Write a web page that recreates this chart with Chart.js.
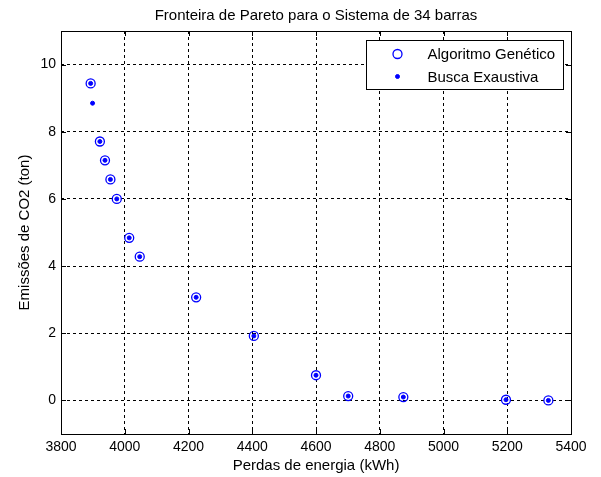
<!DOCTYPE html>
<html>
<head>
<meta charset="utf-8">
<script src="https://cdn.jsdelivr.net/npm/chart.js@4.4.1/dist/chart.umd.min.js"></script>
<style>
  html, body { margin: 0; padding: 0; background: #fff; }
  #wrap { width: 601px; height: 477px; }
</style>
</head>
<body>
<div id="wrap"><canvas id="pareto" width="601" height="477"></canvas></div>
<script>
// --- dados ---
const gaLosses    = [3893, 3922, 3938, 3955, 3975, 4014, 4047, 4224, 4405, 4600, 4701, 4874, 5196, 5329];
const gaEmissions = [9.44, 7.71, 7.15, 6.58, 6.00, 4.84, 4.28, 3.07, 1.92, 0.75, 0.13, 0.10, 0.02, 0.00];
const exLosses    = [3893, 3899, 3922, 3938, 3955, 3975, 4014, 4047, 4224, 4405, 4600, 4701, 4874, 5196, 5329];
const exEmissions = [9.44, 8.85, 7.71, 7.15, 6.58, 6.00, 4.84, 4.28, 3.07, 1.92, 0.75, 0.13, 0.10, 0.02, 0.00];
const xTicks = [3800, 4000, 4200, 4400, 4600, 4800, 5000, 5200, 5400];
const yTicks = [0, 2, 4, 6, 8, 10];
const seriesLabels = ['Algoritmo Genético', 'Busca Exaustiva'];

const FONT = 'Arial, "Liberation Sans", Helvetica, sans-serif';
const BLUE = '#0000ff';

const toPoints = (xs, ys) => xs.map((x, i) => ({ x: x, y: ys[i] }));

// grade tracejada, sem linha por cima da moldura
const gridColor = (c) => {
    const s = c.scale;
    if (!c.tick) return 'rgba(0,0,0,0)';
    return (c.tick.value <= s.min || c.tick.value >= s.max) ? 'rgba(0,0,0,0)' : '#000';
};

// moldura + marcas de escala para dentro (estilo MATLAB)
const boxPlugin = {
    id: 'box',
    afterDatasetsDraw(chart) {
        const { ctx, chartArea: a, scales } = chart;
        ctx.save();
        ctx.strokeStyle = '#000';
        ctx.lineWidth = 1;
        ctx.setLineDash([]);
        ctx.beginPath();
        scales.x.ticks.forEach(t => {
            const px = Math.round(scales.x.getPixelForValue(t.value)) + 0.5;
            ctx.moveTo(px, a.bottom); ctx.lineTo(px, a.bottom - 5);
            ctx.moveTo(px, a.top);    ctx.lineTo(px, a.top + 5);
        });
        scales.y.ticks.forEach(t => {
            const py = Math.round(scales.y.getPixelForValue(t.value)) + 0.5;
            ctx.moveTo(a.left, py);  ctx.lineTo(a.left + 5, py);
            ctx.moveTo(a.right, py); ctx.lineTo(a.right - 5, py);
        });
        ctx.stroke();
        ctx.strokeRect(Math.round(a.left) + 0.5, Math.round(a.top) + 0.5,
                       Math.round(a.right - a.left), Math.round(a.bottom - a.top));
        ctx.restore();
    }
};

// legenda dentro do eixo, canto superior direito
const legendPlugin = {
    id: 'boxLegend',
    afterDraw(chart) {
        const { ctx, chartArea: a } = chart;
        const w = 197, h = 49;
        const x0 = Math.round(a.right - 8 - w) + 0.5, y0 = Math.round(a.top + 9) + 0.5;
        ctx.save();
        ctx.fillStyle = '#fff';
        ctx.fillRect(x0, y0, w, h);
        ctx.strokeStyle = '#000';
        ctx.lineWidth = 1;
        ctx.setLineDash([]);
        ctx.strokeRect(x0, y0, w, h);
        ctx.font = '15px ' + FONT;
        ctx.textBaseline = 'middle';
        ctx.fillStyle = '#000';
        const rows = [y0 + 13.5, y0 + 36];
        chart.data.datasets.forEach((ds, i) => {
            const mx = x0 + 31, my = rows[i];
            ctx.beginPath();
            ctx.arc(mx, my, ds.pointRadius, 0, Math.PI * 2);
            if (ds.pointBackgroundColor !== 'rgba(0,0,0,0)') {
                ctx.fillStyle = ds.pointBackgroundColor;
                ctx.fill();
            }
            ctx.strokeStyle = ds.pointBorderColor;
            ctx.lineWidth = ds.pointBorderWidth;
            ctx.stroke();
            ctx.fillStyle = '#000';
            ctx.fillText(ds.label, x0 + 61, my + 1);
        });
        ctx.restore();
    }
};

const plainNumber = v => String(v);

new Chart(document.getElementById('pareto'), {
    type: 'scatter',
    data: {
        datasets: [{
            label: seriesLabels[0],
            data: toPoints(gaLosses, gaEmissions),
            pointStyle: 'circle',
            pointRadius: 4.5,
            pointBackgroundColor: 'rgba(0,0,0,0)',
            pointBorderColor: BLUE,
            pointBorderWidth: 1.3,
            showLine: false
        }, {
            label: seriesLabels[1],
            data: toPoints(exLosses, exEmissions),
            pointStyle: 'circle',
            pointRadius: 2,
            pointBackgroundColor: BLUE,
            pointBorderColor: BLUE,
            pointBorderWidth: 1,
            showLine: false
        }]
    },
    options: {
        responsive: false,
        animation: false,
        devicePixelRatio: 1,
        layout: { padding: { left: 0, right: 30, top: 0, bottom: 0 } },
        plugins: {
            legend: { display: false },
            tooltip: { enabled: false },
            title: {
                display: true,
                fullSize: false,
                text: 'Fronteira de Pareto para o Sistema de 34 barras',
                color: '#000',
                font: { family: FONT, size: 15, weight: 'normal', lineHeight: 1.2 },
                padding: { top: 7, bottom: 6 }
            }
        },
        scales: {
            x: {
                type: 'linear',
                min: xTicks[0],
                max: xTicks[xTicks.length - 1],
                afterBuildTicks: axis => { axis.ticks = xTicks.map(v => ({ value: v })); },
                afterFit: axis => { axis.height = 43; },
                ticks: { color: '#000', font: { family: FONT, size: 14, lineHeight: 1 }, padding: 6, maxRotation: 0, callback: plainNumber },
                grid: { color: gridColor, drawTicks: false, lineWidth: 1 },
                border: { display: false, dash: [3, 3] },
                title: {
                    display: true,
                    text: 'Perdas de energia (kWh)',
                    color: '#000',
                    font: { family: FONT, size: 15, lineHeight: 1.2 },
                    padding: { top: 3, bottom: 2 }
                }
            },
            y: {
                type: 'linear',
                min: -1,
                max: 11,
                afterBuildTicks: axis => { axis.ticks = yTicks.map(v => ({ value: v })); },
                afterFit: axis => { axis.width = 61; },
                ticks: { color: '#000', font: { family: FONT, size: 14 }, padding: 5, callback: plainNumber },
                grid: { color: gridColor, drawTicks: false, lineWidth: 1 },
                border: { display: false, dash: [3, 3] },
                title: {
                    display: true,
                    text: 'Emissões de CO2 (ton)',
                    color: '#000',
                    font: { family: FONT, size: 15 },
                    padding: { top: 16, bottom: 4 }
                }
            }
        }
    },
    plugins: [boxPlugin, legendPlugin]
});
</script>
</body>
</html>
